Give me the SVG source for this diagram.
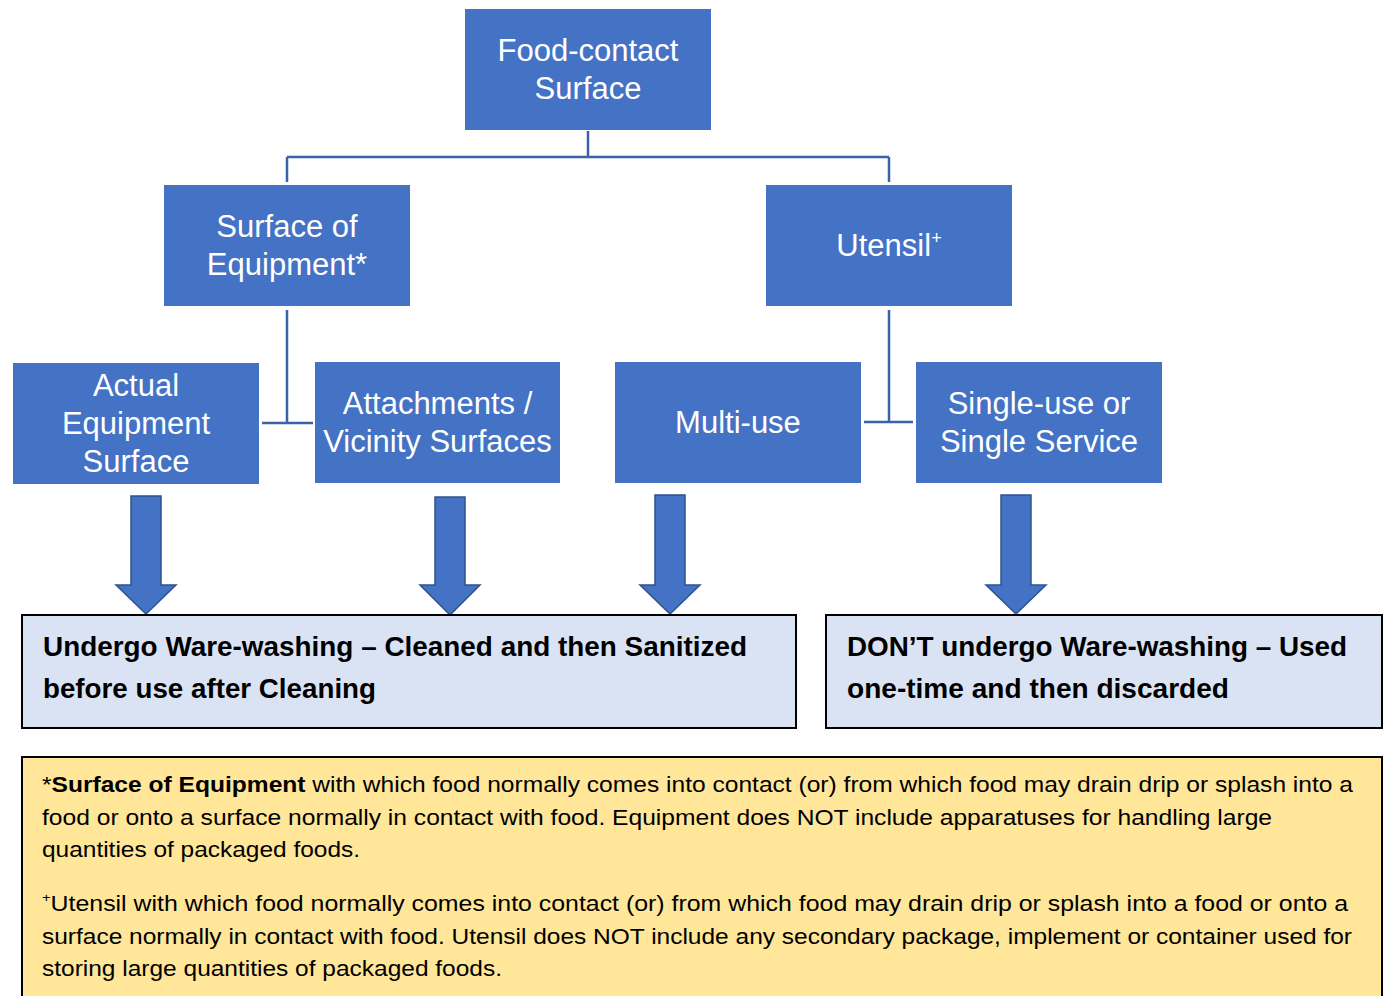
<svg xmlns="http://www.w3.org/2000/svg" width="1388" height="996" viewBox="0 0 1388 996">
<defs>
<style>
.node rect{fill:#4472C4;}
.node text{fill:#FFFFFF;font-family:"Liberation Sans",Arial,sans-serif;font-size:31px;text-anchor:middle;}
.conn{fill:none;stroke:#3A62AA;stroke-width:2.5;}
.arrow{fill:#4472C4;stroke:#2F528F;stroke-width:1.5;stroke-linejoin:miter;}
.res rect{fill:#DAE3F3;stroke:#000;stroke-width:2;}
.res text{font-family:"Liberation Sans",Arial,sans-serif;font-size:27px;font-weight:bold;fill:#000;}
.note rect{fill:#FFE699;stroke:#000;stroke-width:2;}
.note text{font-family:"Liberation Sans",Arial,sans-serif;font-size:22px;fill:#000;}
</style>
</defs>
<rect width="1388" height="996" fill="#FFFFFF"/>

<g id="connectors">
<path class="conn" d="M588,131 V157 M287,157 H889 M287,157 V182 M889,157 V182"/>
<path class="conn" d="M287,310 V423 M262,423 H313"/>
<path class="conn" d="M889,310 V422 M864,422 H913"/>
<polygon class="arrow" points="131,496 161,496 161,585 176,585 146,614 116,585 131,585"/>
<polygon class="arrow" points="435,497 465,497 465,585 480,585 450,615 420,585 435,585"/>
<polygon class="arrow" points="655,495 685,495 685,585 700,585 670,614 640,585 655,585"/>
<polygon class="arrow" points="1001,495 1031,495 1031,585 1046,585 1016,614 986,585 1001,585"/>
</g>

<g id="food-contact-surface" class="node">
<rect x="465" y="9" width="246" height="121"/>
<text x="588" y="61">Food-contact</text>
<text x="588" y="99">Surface</text>
</g>
<g id="surface-of-equipment" class="node">
<rect x="164" y="185" width="246" height="121"/>
<text x="287" y="237">Surface of</text>
<text x="287" y="275">Equipment*</text>
</g>
<g id="utensil" class="node">
<rect x="766" y="185" width="246" height="121"/>
<text x="889" y="256">Utensil<tspan font-size="18" dy="-12">+</tspan></text>
</g>
<g id="actual-equipment-surface" class="node">
<rect x="13" y="363" width="246" height="121"/>
<text x="136" y="396">Actual</text>
<text x="136" y="434">Equipment</text>
<text x="136" y="472">Surface</text>
</g>
<g id="attachments-vicinity" class="node">
<rect x="315" y="362" width="245" height="121"/>
<text x="437.5" y="414">Attachments /</text>
<text x="437.5" y="452">Vicinity Surfaces</text>
</g>
<g id="multi-use" class="node">
<rect x="615" y="362" width="246" height="121"/>
<text x="738" y="433">Multi-use</text>
</g>
<g id="single-use" class="node">
<rect x="916" y="362" width="246" height="121"/>
<text x="1039" y="414">Single-use or</text>
<text x="1039" y="452">Single Service</text>
</g>

<g id="ware-washing" class="res">
<rect x="22" y="615" width="774" height="113"/>
<text x="43" y="656" textLength="704" lengthAdjust="spacingAndGlyphs">Undergo Ware-washing – Cleaned and then Sanitized</text>
<text x="43" y="698" textLength="333" lengthAdjust="spacingAndGlyphs">before use after Cleaning</text>
</g>
<g id="no-ware-washing" class="res">
<rect x="826" y="615" width="556" height="113"/>
<text x="847" y="656" textLength="500" lengthAdjust="spacingAndGlyphs">DON’T undergo Ware-washing – Used</text>
<text x="847" y="698" textLength="382" lengthAdjust="spacingAndGlyphs">one-time and then discarded</text>
</g>

<g id="footnotes" class="note">
<rect x="22" y="757" width="1360" height="250"/>
<text x="42" y="792" textLength="1311" lengthAdjust="spacingAndGlyphs">*<tspan font-weight="bold">Surface of Equipment</tspan> with which food normally comes into contact (or) from which food may drain drip or splash into a</text>
<text x="42" y="825" textLength="1230" lengthAdjust="spacingAndGlyphs">food or onto a surface normally in contact with food. Equipment does NOT include apparatuses for handling large</text>
<text x="42" y="857" textLength="318" lengthAdjust="spacingAndGlyphs">quantities of packaged foods.</text>
<text x="42" y="911" textLength="1306" lengthAdjust="spacingAndGlyphs"><tspan font-size="13" dy="-9">+</tspan><tspan dy="9">Utensil with which food normally comes into contact (or) from which food may drain drip or splash into a food or onto a</tspan></text>
<text x="42" y="944" textLength="1310" lengthAdjust="spacingAndGlyphs">surface normally in contact with food. Utensil does NOT include any secondary package, implement or container used for</text>
<text x="42" y="976" textLength="460" lengthAdjust="spacingAndGlyphs">storing large quantities of packaged foods.</text>
</g>
</svg>
